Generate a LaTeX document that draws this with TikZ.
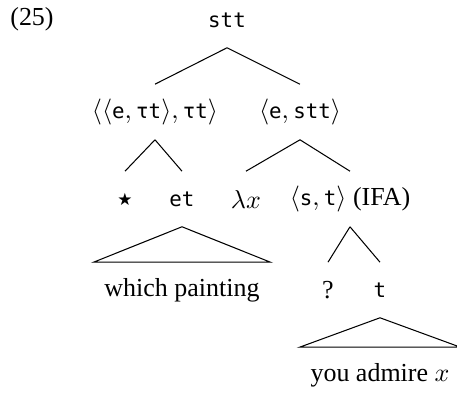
\documentclass[tikz,border=0pt]{standalone}
\usepackage{fontspec}
\setmainfont{Liberation Serif}
\setmonofont{DejaVu Sans Mono}[Scale=0.8]
\newfontfamily\symfont{DejaVu Sans}
\usepackage{tikz}
\newcommand{\ty}[1]{\texttt{#1}}

\begin{document}
\begin{tikzpicture}[
  x=0.385pt, y=-0.385pt,
  font=\normalsize,
  cat/.style={inner sep=0pt, minimum height=21pt},
  roof/.style={inner xsep=4pt, inner ysep=0pt, minimum height=21pt},
  branch/.style={thin},
]
\useasboundingbox (0,0) rectangle (457,394);

% --- example number ---
\node[inner sep=0pt] (exnum) at (32,19) {(25)};

% --- categories ---
\node[cat] (root) at (227,20) {\ty{stt}};
\node[cat] (quant) at (155,112) {$\langle\langle\ty{e},\ty{τt}\rangle,\ty{τt}\rangle$};
\node[cat] (abstr) at (300,112) {$\langle\ty{e},\ty{stt}\rangle$};
\node[cat] (star) at (125,199) {\symfont\fontsize{6.5pt}{8pt}\selectfont ★};
\node[cat] (noun) at (182,199) {\ty{et}};
\node[cat] (lam) at (246,199) {$\lambda x$};
\node[cat] (prop) at (350,199) {$\langle\ty{s},\ty{t}\rangle$~(IFA)};
\node[cat] (qmark) at (328,290) {?};
\node[cat] (tee) at (380,290) {\ty{t}};

% --- words under roofs ---
\node[roof] (wp) at (182,290) {which painting};
\node[roof] (yax) at (380,375) {you admire $x$};

% branches
\draw[branch] (root.south) -- (quant.north);
\draw[branch] (root.south) -- (abstr.north);
\draw[branch] (quant.south) -- (star.north);
\draw[branch] (quant.south) -- (noun.north);
\draw[branch] (abstr.south) -- (lam.north);
\draw[branch] (abstr.south) -- (prop.north);
\draw[branch] (prop.south) -- (qmark.north);
\draw[branch] (prop.south) -- (tee.north);
% roofs
\draw[branch] (noun.south) -- (wp.north west) -- (wp.north east) -- cycle;
\draw[branch] (tee.south) -- (yax.north west) -- (yax.north east) -- cycle;
\end{tikzpicture}
\end{document}
